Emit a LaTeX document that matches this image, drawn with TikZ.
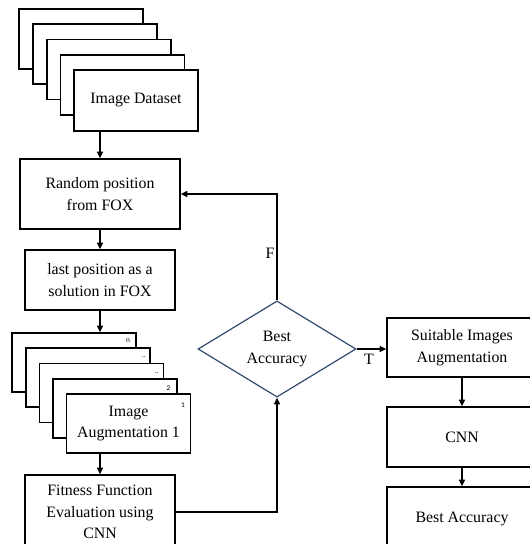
\documentclass[tikz,border=0pt]{standalone}
\usepackage{fontspec}
\setmainfont{Liberation Serif}
\newfontfamily\smallsans{Carlito}
\usetikzlibrary{shapes.geometric,arrows.meta}
\begin{document}
\begin{tikzpicture}[x=0.75pt,y=-0.75pt,
  box/.style={draw=black,line width=1pt,fill=white,inner sep=0pt,align=center,
    font=\fontsize{11.9}{16.2}\selectfont},
  sz/.style 2 args={minimum width=#1*0.75pt,minimum height=#2*0.75pt},
  arr/.style={draw=black,line width=0.9pt,-{Triangle[length=5pt,width=4.5pt]}},
  dec/.style={shape=diamond,draw={rgb,255:red,50;green,74;blue,110},line width=0.9pt,
    inner sep=0pt,sz={158}{80},align=center,font=\fontsize{11.9}{16.2}\selectfont},
  tag/.style={font=\smallsans\fontsize{5.5}{6}\selectfont,inner sep=0pt},
  lab/.style={font=\fontsize{11.9}{14}\selectfont,inner sep=0pt}]
\useasboundingbox (0,0) rectangle (530,544);
\clip (0,0) rectangle (530,544);
% top stack
\node[box,sz={124}{60}] (a1) at (81,39) {};
\node[box,sz={124}{60}] (a2) at (95,54) {};
\node[box,sz={124}{60}] (a3) at (109,69.5) {};
\node[box,sz={124}{60}] (a4) at (122.5,85) {};
\node[box,sz={124}{61}] (ds) at (136,100.5) {Image Dataset};
% left column
\node[box,sz={160}{70}] (rand) at (100,194) {Random position\\from FOX};
\node[box,sz={150}{60}] (last) at (100,280) {last position as a\\solution in FOX};
% bottom stack
\node[box,sz={124}{59}] (c1) at (74,362.5) {};
\node[box,sz={124}{59}] (c2) at (88,377.5) {};
\node[box,sz={124}{59}] (c3) at (101.5,393) {};
\node[box,sz={124}{59}] (c4) at (115,408.5) {};
\node[box,sz={124}{59}] (aug) at (128.5,423.5) {Image\\Augmentation 1};
\node[tag] (t1) at (128,340.5) {n};
\node[tag] (t2) at (144,357) {..};
\node[tag] (t3) at (157,373) {..};
\node[tag] (t4) at (168.5,388) {2};
\node[tag] (t5) at (183,405) {1};
\node[box,sz={150}{74}] (fit) at (100,512) {Fitness Function\\Evaluation using\\CNN};
% decision
\node[dec] (dia) at (277,349) {Best\\Accuracy};
% right column
\node[box,sz={150}{59}] (suit) at (462,347.5) {Suitable Images\\Augmentation};
\node[box,sz={150}{60}] (cnn) at (462,437) {CNN};
\node[box,sz={150}{64}] (best) at (462,519) {Best Accuracy};
% connectors
\draw[arr] (rand.north |- ds.south) -- (rand.north);
\draw[arr] (rand.south) -- (last.north);
\draw[arr] (last.south) -- (last.south |- c1.north);
\draw[arr] (fit.north |- aug.south) -- (fit.north);
\draw[arr] (fit.east) -| (dia.south);
\draw[arr] (dia.north) -- (dia.north |- rand.east) -- (rand.east);
\draw[arr] (dia.east) -- (dia.east -| suit.west);
\draw[arr] (suit.south) -- (cnn.north);
\draw[arr] (cnn.south) -- (best.north);
\node[lab] (fl) at (270,253) {F};
\node[lab] (tl) at (369,359) {T};
\end{tikzpicture}
\end{document}
